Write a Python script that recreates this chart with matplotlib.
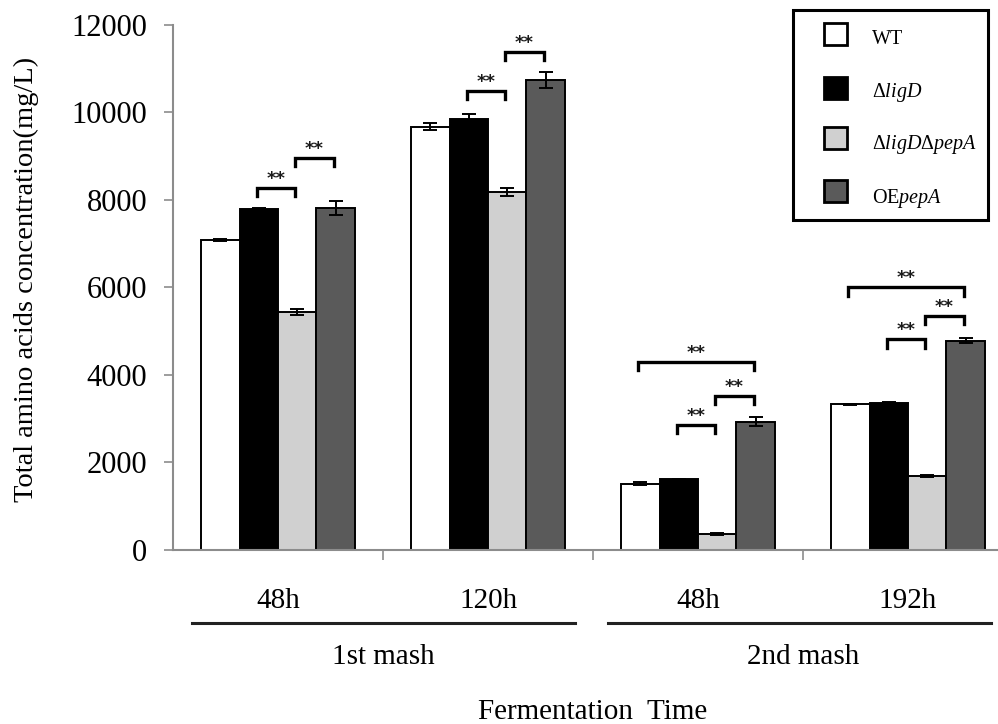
import numpy as np
import matplotlib
matplotlib.use("Agg")
import matplotlib.pyplot as plt
from matplotlib.patches import Rectangle
from matplotlib.lines import Line2D

plt.rcParams["font.family"] = ["Liberation Serif", "DejaVu Serif"]
plt.rcParams["mathtext.fontset"] = "custom"
plt.rcParams["mathtext.rm"] = "Liberation Serif"
plt.rcParams["mathtext.it"] = "Liberation Serif:italic"

# ---- data -------------------------------------------------------------
time_points = ["48h", "120h", "48h", "192h"]
mash_groups = ["1st mash", "2nd mash"]
strains = ["WT", r"$\Delta\mathit{ligD}$",
           r"$\Delta\mathit{ligD}\Delta\mathit{pepA}$", r"OE$\mathit{pepA}$"]
colors = ["#ffffff", "#000000", "#d0d0d0", "#5a5a5a"]

wt = [7080, 9670, 1510, 3325]
ligd = [7790, 9835, 1620, 3365]
ligd_pepa = [5440, 8170, 360, 1690]
oe_pepa = [7810, 10735, 2930, 4780]

wt_err = [20, 85, 35, 20]
ligd_err = [25, 115, 10, 20]
ligd_pepa_err = [65, 90, 20, 15]
oe_pepa_err = [160, 190, 100, 55]

# significance brackets: (category, first strain, second strain, height)
brackets = [
    (0, 1, 2, 8270), (0, 2, 3, 8950),
    (1, 1, 2, 10480), (1, 2, 3, 11380),
    (2, 0, 3, 4290), (2, 1, 2, 2855), (2, 2, 3, 3515),
    (3, 0, 3, 6000), (3, 1, 2, 4810), (3, 2, 3, 5350),
]

# ---- figure -----------------------------------------------------------
W, H = 998, 724
fig = plt.figure(figsize=(W / 100, H / 100), dpi=100)


def fx(px):
    return px / W


def fy(py):
    return 1 - py / H


ax = fig.add_axes([fx(173), fy(550), fx(1013) - fx(173), fy(24.5) - fy(550)])

series = [wt, ligd, ligd_pepa, oe_pepa]
errs = [wt_err, ligd_err, ligd_pepa_err, oe_pepa_err]
x = np.arange(len(time_points))
bw = 0.1833
offsets = (np.arange(4) - 1.5) * bw

for k in range(4):
    ax.bar(x + offsets[k], series[k], width=bw, color=colors[k],
           edgecolor="black", linewidth=1.4, zorder=2)
    ax.errorbar(x + offsets[k], series[k], yerr=errs[k], fmt="none",
                ecolor="black", elinewidth=1.4, capsize=5, capthick=1.4,
                zorder=3)

leg = 190
for cat, a, b, h in brackets:
    x0 = cat + offsets[a] - 0.01
    x1 = cat + offsets[b] - 0.01
    ax.plot([x0, x0, x1, x1], [h - leg, h, h, h - leg], color="black",
            lw=2.4, solid_joinstyle="miter", zorder=4, clip_on=False)
    ax.annotate("**", xy=((x0 + x1) / 2, h), xytext=(0, 0),
                textcoords="offset pixels", ha="center", va="bottom",
                fontsize=13, fontweight="bold", color="#1a1a1a",
                family="DejaVu Sans", annotation_clip=False)

ax.set_xlim(-0.5, 3.5)
ax.set_ylim(0, 12000)
ax.set_yticks(np.arange(0, 12001, 2000))
ax.set_yticklabels([str(v) for v in range(0, 12001, 2000)], fontsize=22)

ax.set_xticks(np.arange(0.5, 3.0, 1.0))
ax.set_xticklabels([])
ax.set_xticks(x, minor=True)
ax.set_xticklabels(time_points, minor=True, fontsize=21)
ax.tick_params(axis="x", which="minor", length=0, pad=27)
ax.tick_params(axis="x", which="major", length=7, width=1.2,
               color="#8c8c8c", direction="out")
ax.tick_params(axis="y", length=6.5, width=1.2, color="#8c8c8c",
               direction="out", pad=12)

for side in ["top", "right"]:
    ax.spines[side].set_visible(False)
for side in ["left", "bottom"]:
    ax.spines[side].set_color("#8c8c8c")
    ax.spines[side].set_linewidth(1.5)

# grouping lines under the time labels
ytr = ax.get_xaxis_transform()
line_y = (550 - 623) / 525.5
for (x0, x1) in [(-0.41, 1.414), (1.571, 3.395)]:
    ax.add_line(Line2D([x0, x1], [line_y, line_y], transform=ytr,
                       color="#222222", lw=2.2, clip_on=False))
for xc, name in zip([0.5, 2.5], mash_groups):
    ax.text(xc, (550 - 657) / 525.5, name, transform=ytr, ha="center",
            va="center", fontsize=21)
ax.text(1.5, (550 - 712) / 525.5, "Fermentation  Time", transform=ytr,
        ha="center", va="center", fontsize=21)

fig.text(fx(26), fy(279), "Total amino acids concentration(mg/L)",
         rotation=90, ha="center", va="center", fontsize=20.5)

# legend box
fig.add_artist(Rectangle((fx(793), fy(220)), fx(988) - fx(793),
                         fy(10) - fy(220), transform=fig.transFigure,
                         facecolor="white", edgecolor="black", lw=2.2))
patch_y = [34, 88, 138, 191]
label_y = [39, 93, 144, 198]
for k in range(4):
    fig.add_artist(Rectangle((fx(824), fy(patch_y[k] + 11)), fx(23),
                             fy(0) - fy(22), transform=fig.transFigure,
                             facecolor=colors[k], edgecolor="black", lw=2))
    fig.text(fx(872), fy(label_y[k]), strains[k], ha="left", va="center",
             fontsize=14.5)

fig.savefig("out.png", dpi=100)
